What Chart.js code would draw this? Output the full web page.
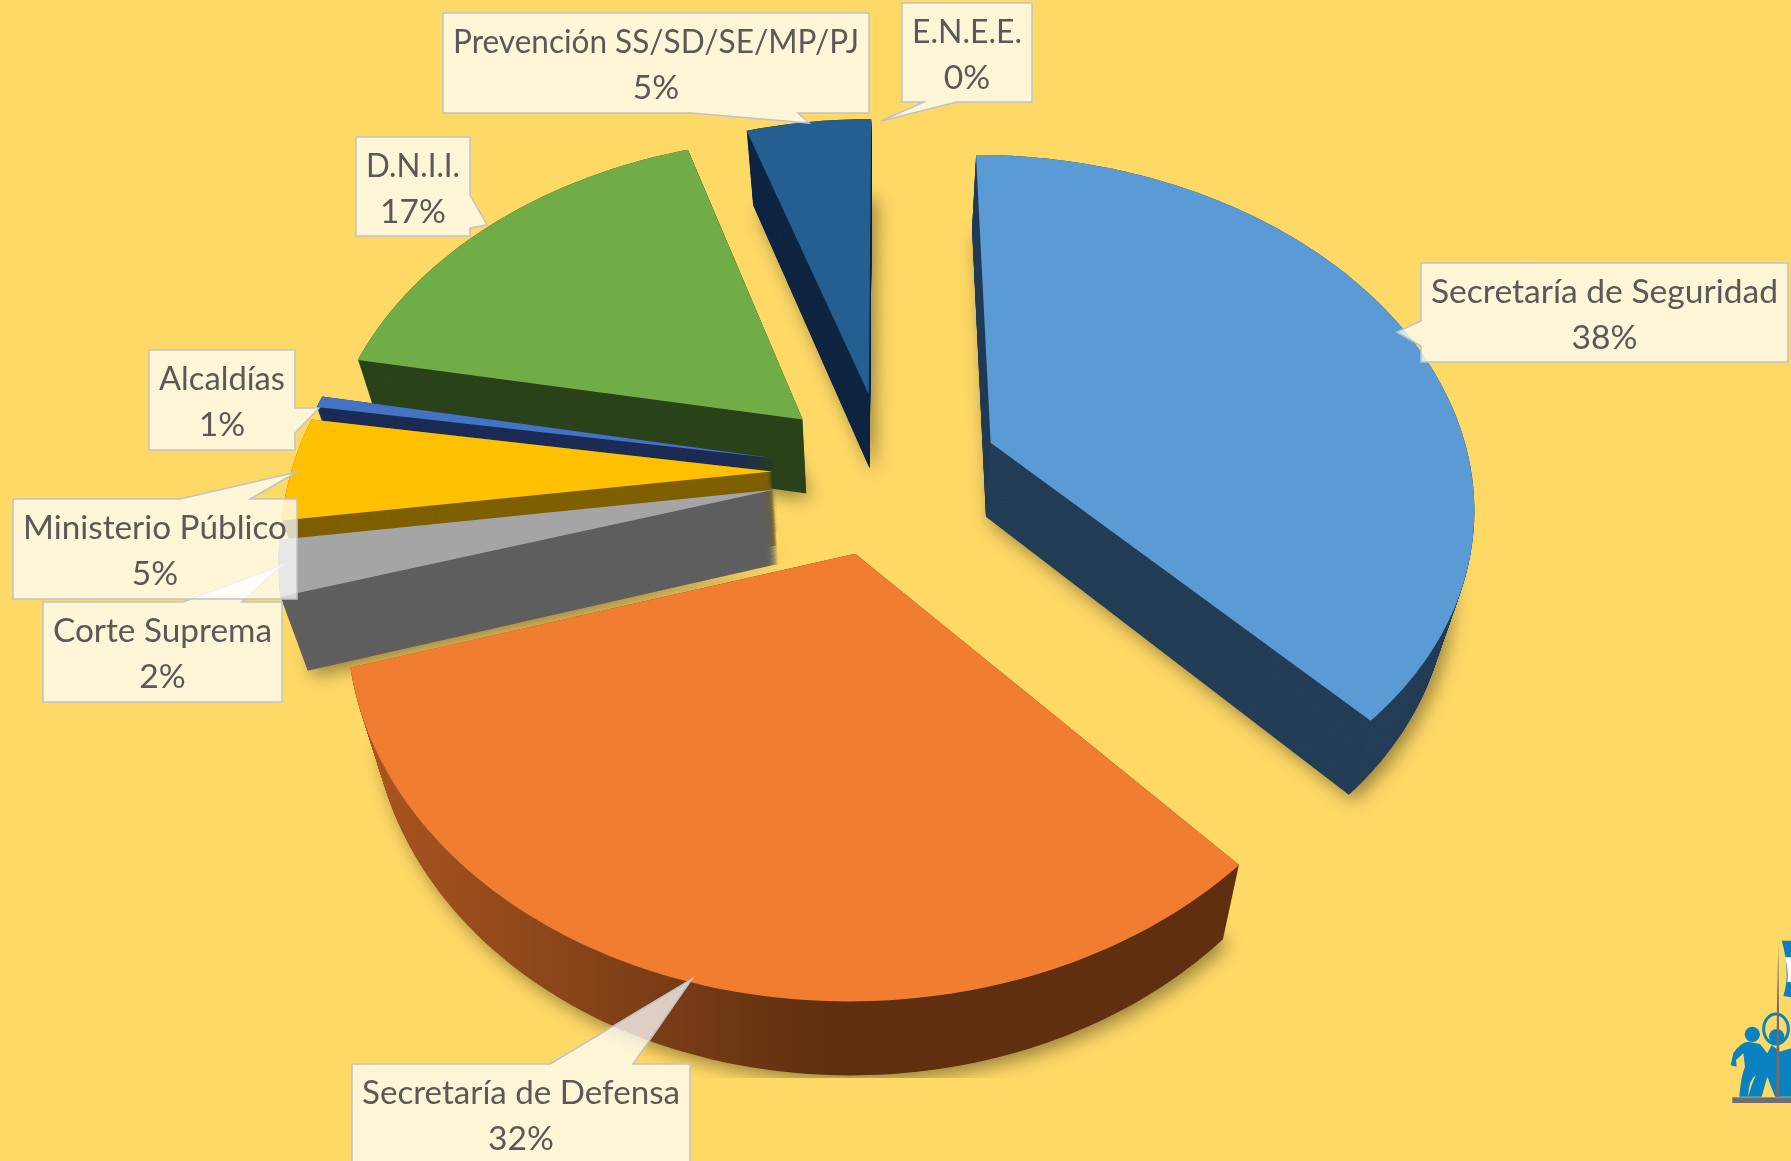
<!DOCTYPE html>
<html>
<head>
<meta charset="utf-8">
<title>Distribución</title>
<script src="https://cdn.jsdelivr.net/npm/chart.js@4"></script>
<style>
  html, body { margin: 0; padding: 0; background: #ffd966; overflow: hidden; }
  #wrap { position: relative; width: 1791px; height: 1161px; }
  #logo { position: absolute; left: 1680px; top: 920px; }
</style>
</head>
<body>
<div id="wrap">
  <canvas id="pie-chart"></canvas>
  <svg id="logo" width="111" height="200" viewBox="0 0 333 600">
    <path fill="#0a82c0" d="M305 62H333V232L310 228Q322 190 320 150Q318 105 305 62Z"/>
    <path fill="#fff" d="M315 112H333V186H322Q326 150 315 112Z"/>
    <ellipse cx="288" cy="327" rx="37" ry="45" fill="none" stroke="#0a82c0" stroke-width="9"/>
    <circle cx="217" cy="343" r="23" fill="#0a82c0"/>
    <circle cx="290" cy="350" r="23" fill="#0a82c0"/>
    <path fill="#0a82c0" d="M152 436L160 400Q180 368 205 365L240 372L262 400L275 375L300 395L333 385V530H285L262 470L245 530H205Q215 490 228 465Q205 480 205 530H178Q182 470 195 440L190 400L168 420L170 440Z"/>
    <path fill="#6d6d72" d="M295 75L299 530H288L291 250Z"/>
    <rect x="157" y="532" width="176" height="17" fill="#6d6d72"/>
  </svg>
</div>
<script>
const categories = ["Secretaría de Seguridad", "Secretaría de Defensa", "Corte Suprema", "Ministerio Público", "Alcaldías", "D.N.I.I.", "Prevención SS/SD/SE/MP/PJ", "E.N.E.E."];
const shares = [38.1, 32.2, 2.47, 4.7, 0.53, 17, 5, 0];
const faceColors = ["#5b9bd5", "#f07d30", "#a5a5a5", "#ffc000", "#4472c4", "#70ad47", "#255e91", "#9e480e"];
const wallColors = ["#233d56", "#7a3f16", "#5f5f5f", "#7f6000", "#1c2c55", "#2b431a", "#0f2540", "#5f2c08"];

// callout boxes, in page pixels: [left, top, right, bottom], then the wedge
const callouts = [
  { box: [1421, 263, 1788, 362], tip: [1397, 332], side: "left", base: [321, 346] },
  { box: [352, 1064, 690, 1164], tip: [692, 979], side: "top", base: [550, 633] },
  { box: [43, 602, 282, 702], tip: [282, 565], side: "top", base: [183, 242] },
  { box: [13, 499, 297, 599], tip: [297, 472], side: "top", base: [180, 250] },
  { box: [149, 350, 295, 450], tip: [319, 408], side: "right", base: [408, 433] },
  { box: [356, 137, 470, 236], tip: [487, 225], side: "right", base: [195, 228] },
  { box: [443, 13, 869, 113], tip: [809, 123], side: "bottom", base: [691, 798] },
  { box: [902, 3, 1032, 102], tip: [881, 121], side: "bottom", base: [924, 957] }
];

// tilted plane: vanishing centre, foreshortening, perspective distance, extrusion
const view = { cx: 886, cy: 472, tilt: 0.715, dist: 2930, depth: 74, shrink: 0.045 };

function project(el, angle, r, d) {
  const mid = (el.startAngle + el.endAngle) / 2;
  const off = el.options.offset;
  const u = off * Math.cos(mid) + r * Math.cos(angle);
  const v = off * Math.sin(mid) + r * Math.sin(angle);
  const w = 1 - v / view.dist;
  return [view.cx + (1 - view.shrink * d) * u / w, view.cy + view.tilt * v / w + view.depth * d];
}

function tracePath(ctx, el, d) {
  const steps = Math.max(2, Math.ceil((el.endAngle - el.startAngle) * 180 / Math.PI));
  ctx.beginPath();
  let p = project(el, 0, 0, d);
  ctx.moveTo(p[0], p[1]);
  for (let i = 0; i <= steps; i++) {
    const a = el.startAngle + (el.endAngle - el.startAngle) * i / steps;
    p = project(el, a, el.outerRadius, d);
    ctx.lineTo(p[0], p[1]);
  }
  ctx.closePath();
}

const pie3d = {
  id: "pie3d",
  beforeDatasetDraw(chart, args) {
    const ctx = chart.ctx;
    const arcs = args.meta.data;
    ctx.save();
    ctx.beginPath();
    ctx.rect(0, 0, chart.width, 1078);
    ctx.clip();
    for (let i = arcs.length - 1; i >= 0; i--) {
      const el = arcs[i];
      if (shares[i] === 0) continue;
      let wall = wallColors[i];
      if (i === 1) {
        wall = ctx.createLinearGradient(370, 0, 830, 0);
        wall.addColorStop(0, "#a9551f");
        wall.addColorStop(1, "#5f2f10");
      }
      ctx.fillStyle = wall;
      ctx.save();
      ctx.shadowColor = "rgba(0,0,0,0.4)";
      ctx.shadowBlur = 18;
      ctx.shadowOffsetX = 5;
      ctx.shadowOffsetY = 6;
      tracePath(ctx, el, 1);
      ctx.fill();
      ctx.restore();
      for (let k = 99; k >= 0; k--) {
        tracePath(ctx, el, k / 100);
        ctx.fill();
      }
      ctx.fillStyle = faceColors[i];
      tracePath(ctx, el, 0);
      ctx.fill();
    }
    ctx.restore();
    return false;
  },
  afterDraw(chart) {
    const ctx = chart.ctx;
    callouts.forEach((c, i) => {
      const [l, t, r, b] = c.box;
      ctx.beginPath();
      ctx.moveTo(l, t);
      if (c.side === "top") {
        ctx.lineTo(c.base[0], t);
        ctx.lineTo(c.tip[0], c.tip[1]);
        ctx.lineTo(c.base[1], t);
      }
      ctx.lineTo(r, t);
      if (c.side === "right") {
        ctx.lineTo(r, c.base[0]);
        ctx.lineTo(c.tip[0], c.tip[1]);
        ctx.lineTo(r, c.base[1]);
      }
      ctx.lineTo(r, b);
      if (c.side === "bottom") {
        ctx.lineTo(c.base[1], b);
        ctx.lineTo(c.tip[0], c.tip[1]);
        ctx.lineTo(c.base[0], b);
      }
      ctx.lineTo(l, b);
      if (c.side === "left") {
        ctx.lineTo(l, c.base[1]);
        ctx.lineTo(c.tip[0], c.tip[1]);
        ctx.lineTo(l, c.base[0]);
      }
      ctx.closePath();
      ctx.fillStyle = "rgba(255,255,255,0.75)";
      ctx.fill();
      ctx.strokeStyle = "#bfc3c8";
      ctx.lineWidth = 1.5;
      ctx.stroke();
      ctx.fillStyle = "#595959";
      ctx.font = "33.6px Lato";
      ctx.textAlign = "center";
      ctx.textBaseline = "middle";
      ctx.fillText(categories[i], (l + r) / 2, t + 29, r - l - 20);
      ctx.fillText(Math.round(shares[i]) + "%", (l + r) / 2, t + 75);
    });
  }
};

new Chart(document.getElementById("pie-chart"), {
  type: "pie",
  data: {
    labels: categories,
    datasets: [{ data: shares, backgroundColor: faceColors, offset: 114, hoverOffset: 0, borderWidth: 0 }]
  },
  options: {
    responsive: true,
    maintainAspectRatio: false,
    animation: false,
    radius: 481,
    plugins: { legend: { display: false }, tooltip: { enabled: false } }
  },
  plugins: [pie3d]
});
</script>
</body>
</html>
